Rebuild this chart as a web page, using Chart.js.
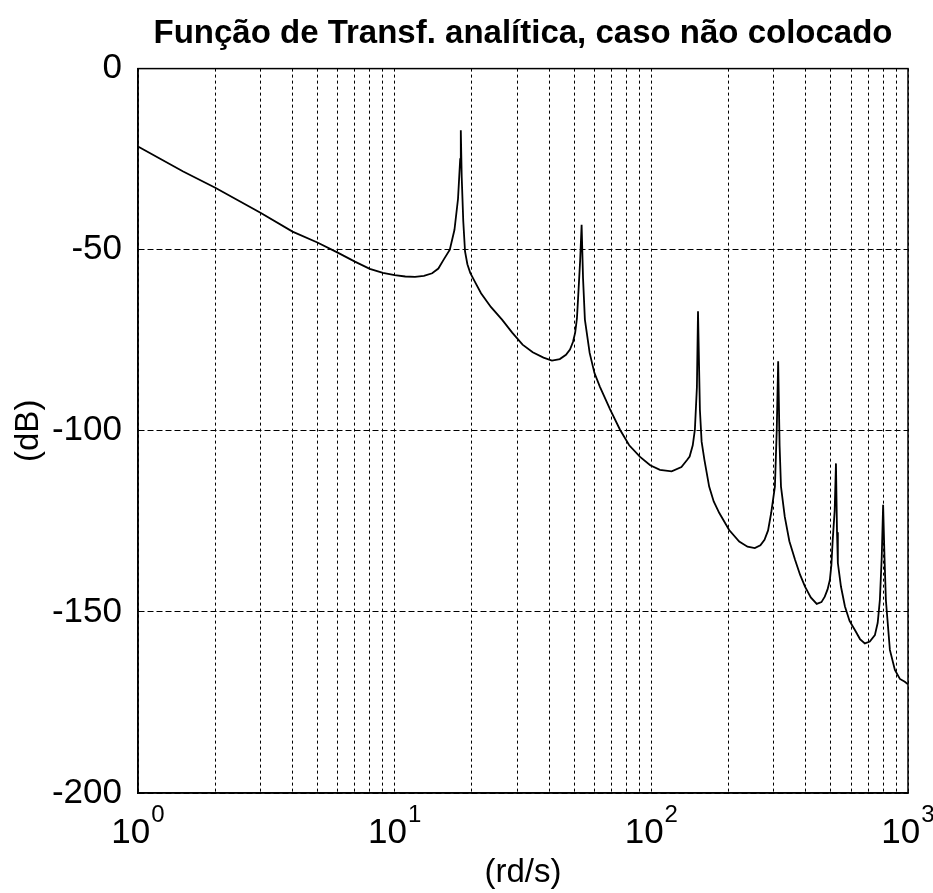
<!DOCTYPE html>
<html>
<head>
<meta charset="utf-8">
<script src="https://cdn.jsdelivr.net/npm/chart.js@4/dist/chart.umd.min.js"></script>
<style>
  html, body { margin: 0; padding: 0; background: #fff; }
  #wrap { width: 933px; height: 893px; }
</style>
</head>
<body>
<div id="wrap"><canvas id="bodeChart" width="933" height="893"></canvas></div>
<script>
// frequency (rd/s) and magnitude (dB)
const freq = [1, 1.5, 2, 3, 4, 5, 6, 7, 8, 9, 10, 11, 12, 13, 14, 14.8, 15.5, 16.4, 17.1, 17.65, 18.0, 18.1, 18.25, 18.5, 18.8, 19.2, 19.7,
  20.6, 21.7, 23.7, 26.2, 28.7, 31.5, 34.5, 38, 41, 44, 46.5, 48.2, 49.5, 50.5, 51.3, 51.8, 52.8, 53.5, 54.2, 55.1, 57.5,
  60, 63, 69, 75.5, 82, 90.4, 99, 108, 120, 131, 138, 141, 145, 147.8, 150.5, 152, 154.6, 157, 161, 168, 175, 184,
  201, 220, 237, 253, 266, 276, 285, 293, 303, 308, 312, 316, 320, 331, 345, 363, 380, 397, 418, 441, 460, 474,
  486, 496, 503, 509, 518, 524, 529, 533, 548, 568, 592, 621, 650, 679, 710, 743, 762, 777, 790, 800, 810, 820,
  850, 889, 930, 972, 1000];
const magDb = [-21.5, -28.4, -32.9, -39.8, -45, -48, -50.8, -53.3, -55.3, -56.4, -57, -57.4, -57.5, -57.2, -56.5, -55.2, -52.8, -50, -44.5, -36, -25, -17, -30, -42, -50.5, -54, -56.4,
  -59, -62, -65.8, -69.3, -72.9, -76.2, -78.3, -79.8, -80.6, -80.2, -79, -77.6, -75.5, -72.9, -69, -63.8, -53, -43.1, -58, -69.3, -78.5,
  -84, -87.8, -94, -99.7, -104, -107.2, -109.5, -110.8, -111.2, -110, -108, -107.1, -104, -99.7, -88, -67, -94.2, -103, -108, -115.4, -119.5, -122.7,
  -127.4, -130.6, -132, -132.4, -131.6, -130.1, -127.5, -122.7, -115.4, -100, -80.8, -104, -115.4, -123.7, -130.5, -135.6, -139.8, -143, -146, -147.8, -147.3, -145.8,
  -143.8, -141.2, -137, -130.1, -122, -109, -128, -136.5, -143, -148.5, -152.5, -155, -157.5, -158.7, -158.2, -156.4, -153, -146.7, -135, -120.4, -135, -146.7,
  -160.5, -166, -168.5, -169.3, -170];

const yTicks = [0, -50, -100, -150, -200];
const xMajor = [1, 10, 100, 1000];
const xExponents = ['0', '1', '2', '3'];

const points = freq.map((f, i) => ({ x: f, y: magDb[i] }));

const gridTicks = [];
[1, 10, 100].forEach(d => { for (let k = 1; k < 10; k++) gridTicks.push(d * k); });
gridTicks.push(1000);

const fontFam = '"Liberation Sans", Arial, sans-serif';

// draws the 10^n labels with a raised exponent, like the original
const powerLabels = {
  id: 'powerLabels',
  afterDraw: chart => {
    const { ctx } = chart;
    const xs = chart.scales.x;
    ctx.save();
    ctx.fillStyle = '#000';
    ctx.textBaseline = 'alphabetic';
    ctx.textAlign = 'left';
    xMajor.forEach((v, i) => {
      const px = xs.getPixelForValue(v);
      ctx.font = '35px ' + fontFam;
      const wBase = ctx.measureText('10').width;
      ctx.font = '24px ' + fontFam;
      const wExp = ctx.measureText(xExponents[i]).width;
      const x0 = px - (wBase + wExp + 1) / 2;
      ctx.font = '35px ' + fontFam;
      ctx.fillText('10', x0, 843);
      ctx.font = '24px ' + fontFam;
      ctx.fillText(xExponents[i], x0 + wBase + 1, 822);
    });
    ctx.restore();
  }
};

const frame = {
  id: 'frame',
  afterDatasetsDraw: chart => {
    const { ctx, chartArea: a } = chart;
    ctx.save();
    ctx.strokeStyle = '#000';
    ctx.lineWidth = 1.5;
    ctx.strokeRect(a.left, a.top, a.right - a.left, a.bottom - a.top);
    ctx.restore();
  }
};

new Chart(document.getElementById('bodeChart').getContext('2d'), {
  type: 'line',
  data: {
    datasets: [{
      data: points,
      borderColor: '#000',
      borderWidth: 1.8,
      pointRadius: 0,
      tension: 0,
      fill: false
    }]
  },
  options: {
    responsive: false,
    animation: false,
    layout: { padding: { left: 0, right: 25, top: 0, bottom: 0 } },
    plugins: {
      legend: { display: false },
      tooltip: { enabled: false },
      title: {
        display: true,
        text: 'Função de Transf. analítica, caso não colocado',
        color: '#000',
        fullSize: false,
        font: { family: fontFam, size: 33, weight: 'bold' },
        padding: { top: 14, bottom: 15 }
      }
    },
    scales: {
      x: {
        type: 'logarithmic',
        min: 1,
        max: 1000,
        afterBuildTicks: axis => { axis.ticks = gridTicks.map(v => ({ value: v })); },
        afterFit: axis => { axis.height = 100; },
        border: { display: true, color: '#000', width: 1.5, dash: [3, 3] },
        grid: { color: '#000', lineWidth: 1, drawTicks: false },
        ticks: { display: false },
        title: {
          display: true,
          text: '(rd/s)',
          color: '#000',
          font: { family: fontFam, size: 33 },
          padding: { top: 0, bottom: 0 }
        }
      },
      y: {
        min: -200,
        max: 0,
        afterBuildTicks: axis => { axis.ticks = yTicks.map(v => ({ value: v })); },
        afterFit: axis => { axis.width = 138; },
        border: { display: true, color: '#000', width: 1.5, dash: [6, 3] },
        grid: { color: '#000', lineWidth: 1, drawTicks: false },
        ticks: {
          padding: 16,
          color: '#000',
          font: { family: fontFam, size: 35 }
        },
        title: {
          display: true,
          text: '(dB)',
          color: '#000',
          font: { family: fontFam, size: 33 },
          padding: { top: 9, bottom: 0 }
        }
      }
    }
  },
  plugins: [frame, powerLabels]
});
</script>
</body>
</html>
